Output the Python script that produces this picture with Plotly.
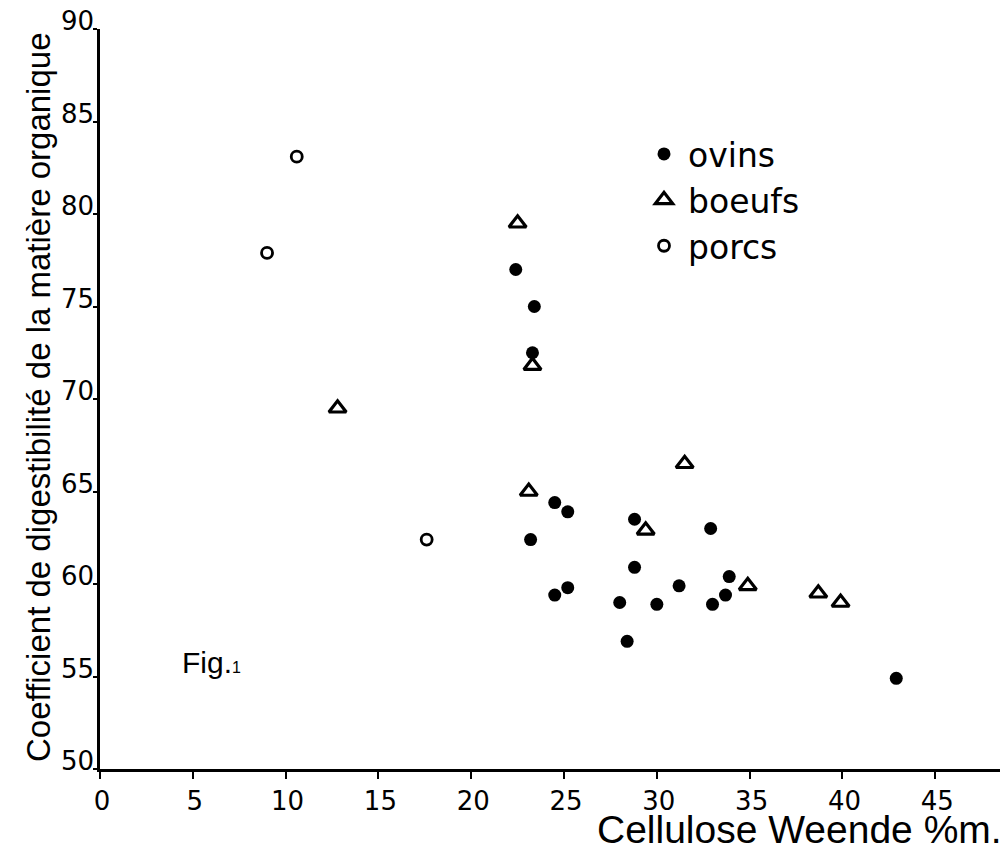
import plotly.graph_objects as go

# ---- data ----
ovins_x = [22.4, 23.4, 23.3, 24.5, 25.2, 28.8, 32.9, 23.2, 28.8, 33.9,
           25.2, 24.5, 31.2, 33.7, 28.0, 30.0, 33.0, 28.4, 42.9]
ovins_y = [77.0, 75.0, 72.5, 64.4, 63.9, 63.5, 63.0, 62.4, 60.9, 60.4,
           59.8, 59.4, 59.9, 59.4, 59.0, 58.9, 58.9, 56.9, 54.9]

boeufs_x = [22.5, 23.3, 12.8, 31.5, 23.1, 29.4, 34.9, 38.7, 39.9]
boeufs_y = [79.5, 71.8, 69.5, 66.5, 65.0, 62.9, 59.9, 59.5, 59.0]

porcs_x = [10.6, 9.0, 17.6]
porcs_y = [83.1, 77.9, 62.4]

x_ticks = [0, 5, 10, 15, 20, 25, 30, 35, 40, 45]
y_ticks = [50, 55, 60, 65, 70, 75, 80, 85, 90]

x_title = "Cellulose Weende %m."
y_title = "Coefficient de digestibilité de la matière organique"
fig_label = "Fig.<span style='font-size:16px'>1</span>"

FONT = "Liberation Sans"
NUMFONT = "DejaVu Sans"
INK = "black"

fig = go.Figure()
fig.add_trace(go.Scatter(
    x=ovins_x, y=ovins_y, mode="markers", name="ovins",
    marker=dict(symbol="circle", size=13, color=INK, line=dict(width=0)),
))
fig.add_trace(go.Scatter(
    x=boeufs_x, y=boeufs_y, mode="markers", name="boeufs",
    marker=dict(symbol="triangle-up-open", size=15, color=INK,
                line=dict(width=3.2, color=INK)),
))
fig.add_trace(go.Scatter(
    x=porcs_x, y=porcs_y, mode="markers", name="porcs",
    marker=dict(symbol="circle-open", size=11, color=INK,
                line=dict(width=2.8, color=INK)),
))

# page has an 8px body margin; figure is sized to fit the 1008x851 window
W, H = 1000, 843
L, T = 92, 21
B = 82
plot_w = W - L          # 908
plot_h = H - T - B      # 740
PX0, PY0 = 100, 769     # page pixel of the plot origin


def px(xp):
    return (xp - PX0) / plot_w


def py(yp):
    return (PY0 - yp) / plot_h


fig.update_layout(
    width=W, height=H,
    margin=dict(l=L, r=0, t=T, b=B, pad=0, autoexpand=False),
    paper_bgcolor="white", plot_bgcolor="white",
    font=dict(family=FONT, color=INK),
    showlegend=True,
    legend=dict(
        x=px(640), y=py(126),
        xanchor="left", yanchor="top",
        font=dict(size=33, family=NUMFONT, color=INK),
        bgcolor="rgba(0,0,0,0)", borderwidth=0,
        itemwidth=38,
    ),
    xaxis=dict(
        range=[0, 48.92], tickvals=x_ticks, ticktext=[str(v) for v in x_ticks],
        showgrid=False, zeroline=False, automargin=False,
        showline=True, linecolor=INK, linewidth=2.5,
        ticks="outside", ticklen=7, tickwidth=2, tickcolor=INK,
        tickfont=dict(size=26, family=NUMFONT, color=INK),
        ticklabelstandoff=0, ticklabelshift=2,
    ),
    yaxis=dict(
        range=[50, 90], tickvals=y_ticks, ticktext=[str(v) for v in y_ticks],
        showgrid=False, zeroline=False, automargin=False,
        showline=True, linecolor=INK, linewidth=2.5,
        ticks="outside", ticklen=4, tickwidth=2, tickcolor=INK,
        tickfont=dict(size=26, family=NUMFONT, color=INK),
        ticklabelstandoff=-6, ticklabelshift=-8,
        ticklabeloverflow="allow",
    ),
    annotations=[
        dict(text=x_title, xref="paper", yref="paper",
             x=px(1004), y=py(829),
             xanchor="right", yanchor="middle", showarrow=False,
             font=dict(size=39, family=FONT, color=INK)),
        dict(text=y_title, xref="paper", yref="paper",
             x=px(38), y=py(397),
             xanchor="center", yanchor="middle", textangle=-90, showarrow=False,
             font=dict(size=33, family=FONT, color=INK)),
        dict(text=fig_label, xref="paper", yref="paper",
             x=px(180), y=py(662),
             xanchor="left", yanchor="middle", showarrow=False,
             font=dict(size=30, family=FONT, color=INK)),
    ],
)

fig.write_html("out.html")
